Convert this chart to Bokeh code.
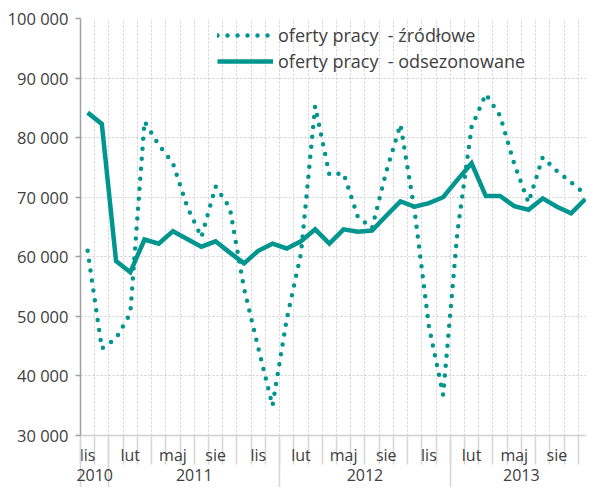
from bokeh.plotting import figure
from bokeh.models import FixedTicker, Range1d, LinearAxis, Legend, LegendItem
from bokeh.embed import file_html
from bokeh.resources import INLINE

# Monthly data, Nov 2010 .. Oct 2013
zrodlowe = [61000, 44600, 46300, 50500, 82700, 78800, 75700, 68400, 63300, 71800,
            68200, 54700, 44700, 35000, 49500, 60500, 85300, 73800, 74000, 66700,
            64800, 74300, 82200, 67600, 48300, 36800, 64100, 81800, 87300, 83700,
            75600, 69100, 76700, 74400, 72500, 70500]
odsezonowane = [84200, 82300, 59300, 57400, 62900, 62200, 64300, 63000, 61700, 62600,
                60700, 58900, 61000, 62200, 61400, 62600, 64600, 62200, 64600, 64200,
                64400, 66900, 69300, 68400, 69000, 70000, 72900, 75700, 70200, 70200,
                68500, 67900, 69800, 68400, 67300, 69700]
n_months = len(zrodlowe)
month_x = [i + 0.5 for i in range(n_months)]

month_labels = ["lis", "lut", "maj", "sie", "lis", "lut", "maj", "sie", "lis", "lut", "maj", "sie"]
month_label_idx = [0, 3, 6, 9, 12, 15, 18, 21, 24, 27, 30, 33]
years = ["2010", "2011", "2012", "2013"]
year_start = [0, 2, 14, 26]
year_end = [2, 14, 26, 36]
y_ticks = [30000, 40000, 50000, 60000, 70000, 80000, 90000, 100000]
series_names = ["oferty pracy\u00a0 - źródłowe", "oferty pracy\u00a0 - odsezonowane"]

TEAL = "#00968F"
TXT = "#404040"
FONT = "Open Sans"

p = figure(width=586, height=487, x_range=Range1d(0, 35.58), y_range=Range1d(30000, 100000),
           output_backend="svg", toolbar_location=None, x_axis_location=None,
           min_border_left=80, min_border_right=0, min_border_top=18, min_border_bottom=52)
p.outline_line_color = None
p.background_fill_color = "white"

# grids
p.xgrid.ticker = FixedTicker(ticks=list(range(1, n_months)))
p.ygrid.ticker = FixedTicker(ticks=y_ticks)
for g in (p.xgrid, p.ygrid):
    g.grid_line_color = "#cfcfcf"
    g.grid_line_dash = "2 2"
    g.grid_line_width = 1

# y axis
ya = p.yaxis[0]
ya.ticker = FixedTicker(ticks=y_ticks)
ya.major_label_overrides = {v: f"{v:,}".replace(",", " ") for v in y_ticks}
ya.major_tick_out = 5
ya.major_tick_in = 0
ya.minor_tick_line_color = None
ya.axis_line_color = "#a0a0a0"
ya.axis_line_width = 1.5
ya.major_tick_line_color = "#a0a0a0"
ya.major_tick_line_width = 1.5
ya.major_label_standoff = 7
ya.major_label_text_font = FONT
ya.major_label_text_font_size = "16.5px"
ya.major_label_text_color = TXT

# x axis: months
ax1 = LinearAxis(ticker=FixedTicker(ticks=[month_x[i] for i in month_label_idx],
                                    minor_ticks=list(range(0, n_months))))
ax1.major_label_overrides = {month_x[i]: lab for i, lab in zip(month_label_idx, month_labels)}
ax1.major_tick_out = 0
ax1.major_tick_in = 0
ax1.major_tick_line_color = None
ax1.minor_tick_out = 29
ax1.minor_tick_in = 0
ax1.minor_tick_line_color = "#d6d6d6"
ax1.minor_tick_line_width = 1.5
ax1.axis_line_color = "#d0d0d0"
ax1.axis_line_width = 1.5
ax1.major_label_standoff = -21
ax1.major_label_text_font = FONT
ax1.major_label_text_font_size = "16px"
ax1.major_label_text_color = TXT
p.add_layout(ax1, "below")

# x axis: years
year_centers = [(a + b) / 2 for a, b in zip(year_start, year_end)]
ax2 = LinearAxis(ticker=FixedTicker(ticks=year_centers, minor_ticks=year_start))
ax2.major_label_overrides = {c: y for c, y in zip(year_centers, years)}
ax2.axis_line_color = None
ax2.major_tick_line_color = None
ax2.major_tick_out = 0
ax2.major_tick_in = 0
ax2.minor_tick_in = 29
ax2.minor_tick_out = 23
ax2.minor_tick_line_color = "#d6d6d6"
ax2.minor_tick_line_width = 1.5
ax2.major_label_standoff = -23
ax2.major_label_text_font = FONT
ax2.major_label_text_font_size = "16px"
ax2.major_label_text_color = TXT
p.add_layout(ax2, "below")

r1 = p.line(month_x, zrodlowe, line_color=TEAL, line_width=4.5, line_dash="0 10", line_cap="round")
r2 = p.line(month_x, odsezonowane, line_color=TEAL, line_width=4.5, line_join="miter")

legend = Legend(items=[LegendItem(label=series_names[0], renderers=[r1]),
                       LegendItem(label=series_names[1], renderers=[r2])],
                location=(137, 362), border_line_color=None, background_fill_alpha=0,
                padding=0, margin=0, spacing=2, glyph_width=56, glyph_height=24,
                label_height=24, label_standoff=5, label_text_font=FONT,
                label_text_font_size="18px", label_text_color=TXT)
p.add_layout(legend)

open("out.html", "w").write(file_html(p, INLINE))
